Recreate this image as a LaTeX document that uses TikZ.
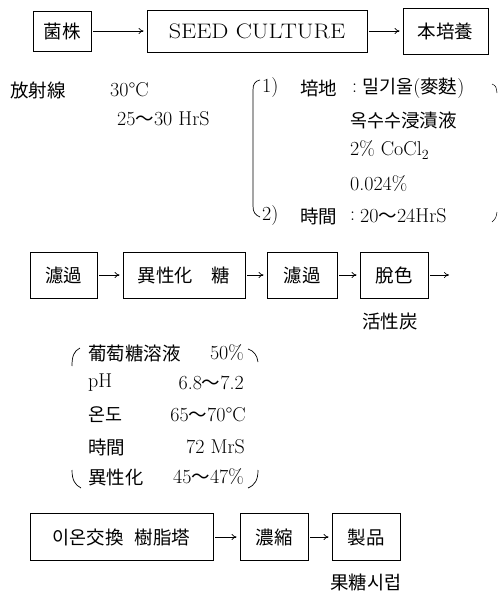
\documentclass[tikz,border=0pt]{standalone}
\usepackage{fontspec}
\newfontfamily\kr{Noto Sans CJK KR}
\usetikzlibrary{arrows.meta}
\newcommand\krt[1]{{\kr\fontsize{18.5}{20}\selectfont #1}}
\begin{document}
\begin{tikzpicture}[x=1pt,y=-1pt,
  every node/.style={font=\fontsize{20}{22}\selectfont, inner sep=0pt},
  box/.style={draw, line width=0.8pt},
  arr/.style={-{To[length=5pt,width=6pt]}, line width=0.7pt, shorten >=3pt, shorten <=2pt},
  lab/.style={anchor=west},
  brk/.style={line width=0.7pt}]
\useasboundingbox (0,0) rectangle (499,594);
% row 1
\node[box, minimum width=58pt, minimum height=40pt] (b1) at (62,31) {\krt{菌株}};
\node[box, minimum width=220pt, minimum height=42pt] (b2) at (257,31) {\fontsize{21}{22}\selectfont\scalebox{1.15}[1]{SEED CULTURE}};
\node[box, minimum width=85pt, minimum height=46pt] (b3) at (445.5,31) {\krt{本培養}};
\draw[arr] (b1) -- (b2);
\draw[arr] (b2) -- (b3);
% conditions
\node[lab] (t1) at (10,90) {\krt{放射線}};
\node[lab] (t2) at (110,90) {30°C};
\node[lab] (t3) at (117,119) {25\krt{～}30 HrS};
\draw[brk] (260,80) .. controls (255,81) and (253,84) .. (253,90) -- (253,206) .. controls (253,212) and (255,215) .. (260,217);
\draw[line width=0.5pt] (492,84) .. controls (496,86) .. (497,93);
\draw[line width=0.5pt] (497,212) .. controls (496,218) .. (492,222);
\node[lab] (p1) at (262,88) {1)};
\node[lab] (p1a) at (300,88) {\krt{培地}};
\node[lab] (p1b) at (352,88) {:};
\node[lab] (p1c) at (362,88) {\krt{밀기울}(\krt{麥麩})};
\node[lab] (p2) at (350,120) {\krt{옥수수浸漬液}};
\node[lab] (p3) at (350,150) {2\% CoCl\textsubscript{2}};
\node[lab] (p4) at (350,184) {0.024\%};
\node[lab] (q1) at (262,216) {2)};
\node[lab] (q1a) at (300,216) {\krt{時間}};
\node[lab] (q1b) at (350,216) {:};
\node[lab] (q1c) at (360,216) {20\krt{～}24HrS};
% row 2
\node[box, minimum width=67pt, minimum height=46pt] (c1) at (63.5,275) {\krt{濾過}};
\node[box, minimum width=122pt, minimum height=46pt] (c2) at (184,275) {\krt{異性化\hspace{1em}糖}};
\node[box, minimum width=70pt, minimum height=46pt] (c3) at (302,275) {\krt{濾過}};
\node[box, minimum width=68pt, minimum height=46pt] (c4) at (394,275) {\krt{脫色}};
\coordinate (c5) at (449,275);
\draw[arr] (c1) -- (c2);
\draw[arr] (c2) -- (c3);
\draw[arr] (c3) -- (c4);
\draw[arr, shorten >=0pt] (c4) -- (c5);
\node (c4n) at (390,321) {\krt{活性炭}};
% isomerisation conditions
\draw[brk] (80,348) .. controls (74,351) and (72,356) .. (72,366);
\draw[brk] (72,470) .. controls (72,480) and (75,485) .. (81,488);
\draw[brk] (248,349) .. controls (254,351) and (257,355) .. (258,362);
\draw[brk] (258,470) .. controls (258,480) and (255,485) .. (248,488);
\node[lab] (g1) at (88,353) {\krt{葡萄糖溶液}};
\node[anchor=east] (g1v) at (244,353) {50\%};
\node[lab] (g2) at (88,383) {pH};
\node[anchor=east] (g2v) at (244,383) {6.8\krt{～}7.2};
\node[lab] (g3) at (88,415) {\krt{온도}};
\node[anchor=east] (g3v) at (246,415) {65\krt{～}70°C};
\node[lab] (g4) at (88,447) {\krt{時間}};
\node[anchor=east] (g4v) at (245,447) {72 MrS};
\node[lab] (g5) at (88,477) {\krt{異性化}};
\node[anchor=east] (g5v) at (244,477) {45\krt{～}47\%};
% row 3
\node[box, minimum width=183pt, minimum height=47pt] (d1) at (121.5,537) {\krt{이온交換\hspace{0.6em}樹脂塔}};
\node[box, minimum width=68pt, minimum height=47pt] (d2) at (274,537) {\krt{濃縮}};
\node[box, minimum width=68pt, minimum height=47pt] (d3) at (366,537) {\krt{製品}};
\draw[arr] (d1) -- (d2);
\draw[arr] (d2) -- (d3);
\node (d3n) at (366,582) {\krt{果糖시럽}};
\end{tikzpicture}
\end{document}
